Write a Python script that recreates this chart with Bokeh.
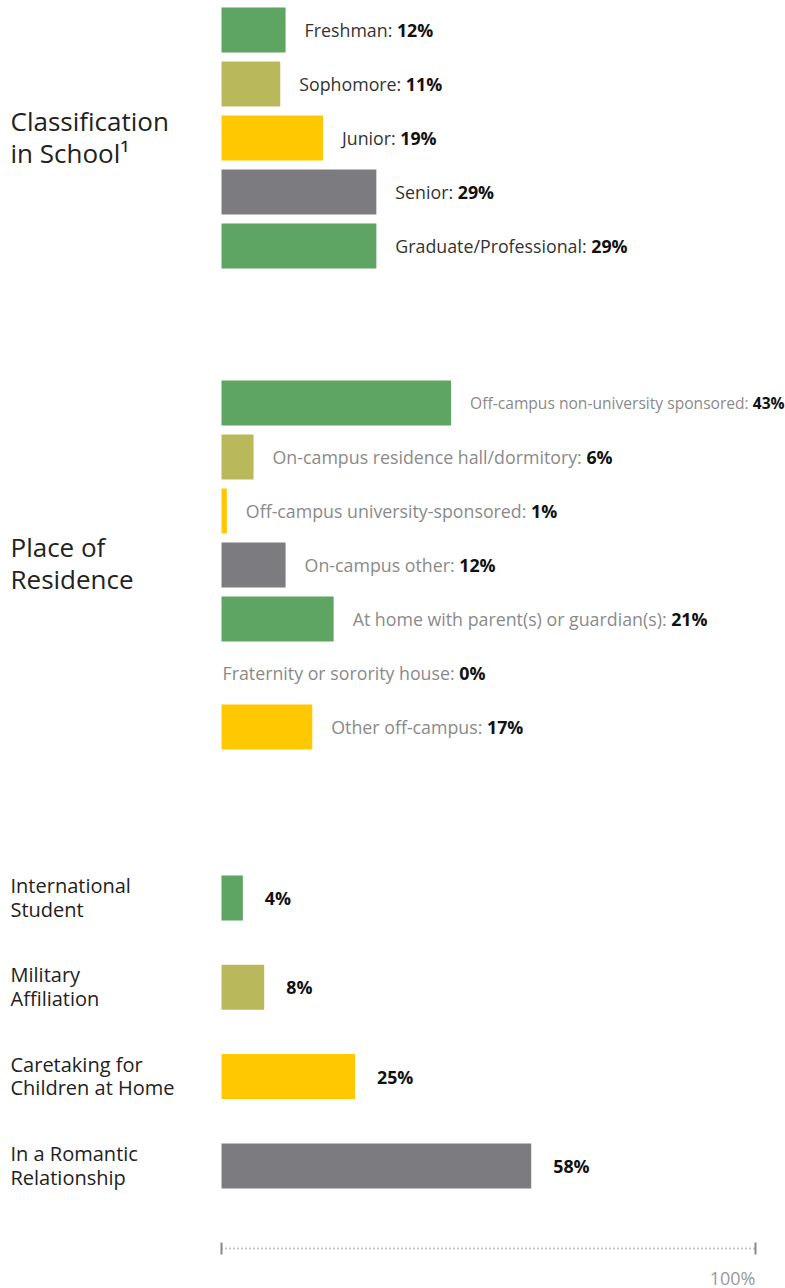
from bokeh.plotting import figure
from bokeh.models import ColumnDataSource, Range1d, CustomJS
from bokeh.core.properties import value
from bokeh.document import Document
from bokeh.embed import file_html
from bokeh.resources import INLINE

# ---------------- data ----------------
class_labels = ["Freshman", "Sophomore", "Junior", "Senior", "Graduate/Professional"]
class_values = [12, 11, 19, 29, 29]

res_labels = ["Off-campus non-university sponsored", "On-campus residence hall/dormitory",
              "Off-campus university-sponsored", "On-campus other",
              "At home with parent(s) or guardian(s)", "Fraternity or sorority house",
              "Other off-campus"]
res_values = [43, 6, 1, 12, 21, 0, 17]

other_labels = ["International\nStudent", "Military\nAffiliation",
                "Caretaking for\nChildren at Home", "In a Romantic\nRelationship"]
other_values = [4, 8, 25, 58]

section_titles = ["Classification\nin School\u00b9", "Place of\nResidence"]
axis_label = "100%"

# ---------------- style ----------------
GREEN, OLIVE, YELLOW, GRAY = "#5ea564", "#b9b95b", "#ffc800", "#7c7c80"
class_colors = [GREEN, OLIVE, YELLOW, GRAY, GREEN]
res_colors = [GREEN, OLIVE, YELLOW, GRAY, GREEN, OLIVE, YELLOW]
other_colors = [GREEN, OLIVE, YELLOW, GRAY]
LBL = "17.8px"
res_sizes = ["15.6px", LBL, LBL, LBL, LBL, LBL, LBL]
FONT = "Open Sans"

W, H = 785, 1288
X0, X100 = 221, 755
PPU = (X100 - X0) / 100.0

p = figure(width=W, height=H, output_backend="svg", toolbar_location=None,
           x_range=Range1d(-X0 / PPU, (W - X0) / PPU), y_range=Range1d(H, 0),
           x_axis_type=None, y_axis_type=None, min_border=0)
p.outline_line_color = None
p.grid.visible = False
p.background_fill_color = "white"
p.border_fill_color = "white"

BAR_H = 45
class_y = [29.5 + 54 * i for i in range(len(class_values))]
res_y = [402.5 + 54 * i for i in range(len(res_values))]
other_y = [897.5 + 89.3 * i for i in range(len(other_values))]

# bars
for ys, vals, cols in [(class_y, class_values, class_colors),
                       (res_y, res_values, res_colors),
                       (other_y, other_values, other_colors)]:
    src = ColumnDataSource(dict(y=ys, right=vals, color=cols))
    p.hbar(y="y", left=0, right="right", height=BAR_H, color="color", source=src,
           line_color=None)

# labels with bold values
lab_text, val_text, xs, ys, sizes, lcol, loff, voff = [], [], [], [], [], [], [], []
for lbls, vals, yy, szs, c in [(class_labels, class_values, class_y, [LBL] * 5, "#333333"),
                               (res_labels, res_values, res_y, res_sizes, "#8a8a8a")]:
    for l, v, y, s in zip(lbls, vals, yy, szs):
        t = l + ": "
        lab_text.append(t)
        val_text.append(f"{v}%")
        xs.append(v)
        ys.append(y)
        sizes.append(s)
        lcol.append(c)
        off = 1 if v == 0 else 19
        loff.append(off)
        voff.append(off + 0.55 * float(s[:-2]) * len(t))

lsrc = ColumnDataSource(dict(x=xs, y=ys, lab=lab_text, val=val_text, size=sizes,
                             lcol=lcol, loff=loff, voff=voff))
p.text(x="x", y="y", text="lab", x_offset="loff", source=lsrc, text_font=value(FONT),
       text_font_size="size", text_color="lcol", text_baseline="middle", text_align="left")
p.text(x="x", y="y", text="val", x_offset="voff", source=lsrc, text_font=value(FONT),
       text_font_size="size", text_color="#111111", text_font_style="bold",
       text_baseline="middle", text_align="left")

# value labels for last section
osrc = ColumnDataSource(dict(x=other_values, y=other_y, val=[f"{v}%" for v in other_values]))
p.text(x="x", y="y", text="val", x_offset=22, source=osrc, text_font=value(FONT),
       text_font_size=LBL, text_color="#111111", text_font_style="bold",
       text_baseline="middle", text_align="left")

# left titles
left_x = p.x_range.start
tsrc = ColumnDataSource(dict(x=[left_x] * 2, y=[class_y[2] - 1, res_y[3] - 2], t=section_titles))
p.text(x="x", y="y", text="t", x_offset=10, source=tsrc, text_font=value(FONT),
       text_font_size="26px", text_color="#222222", text_baseline="middle",
       text_align="left", text_line_height=0.9)
o2src = ColumnDataSource(dict(x=[left_x] * 4, y=[y - 0.5 for y in other_y], t=other_labels))
p.text(x="x", y="y", text="t", x_offset=10, source=o2src, text_font=value(FONT),
       text_font_size="20px", text_color="#222222", text_baseline="middle",
       text_align="left", text_line_height=0.88)

# bottom scale
AX_Y = 1248
p.segment(x0=[0], x1=[100], y0=[AX_Y], y1=[AX_Y], line_color="#888888", line_width=2,
          line_dash="1 3")
p.segment(x0=[0, 100], x1=[0, 100], y0=[AX_Y - 6, AX_Y - 6], y1=[AX_Y + 6, AX_Y + 6],
          line_color="#888888", line_width=2)
p.text(x=[100], y=[1277], text=[axis_label], text_font=value(FONT), text_font_size="18px",
       text_color="#999999", text_baseline="middle", text_align="right")

# measure real label widths in the browser so bold values follow labels exactly
cb = CustomJS(args=dict(src=lsrc, font=FONT), code="""
const ctx = document.createElement('canvas').getContext('2d');
const d = src.data;
const n = d.lab.length;
const voff = [];
for (let i = 0; i < n; i++) {
  ctx.font = `normal ${d.size[i]} "${font}"`;
  voff.push(d.loff[i] + ctx.measureText(d.lab[i]).width);
}
const nd = {};
for (const k of Object.keys(d)) nd[k] = d[k];
nd.voff = voff;
src.data = nd;
""")

doc = Document()
doc.add_root(p)
doc.js_on_event("document_ready", cb)

open("out.html", "w").write(file_html(p, INLINE))
